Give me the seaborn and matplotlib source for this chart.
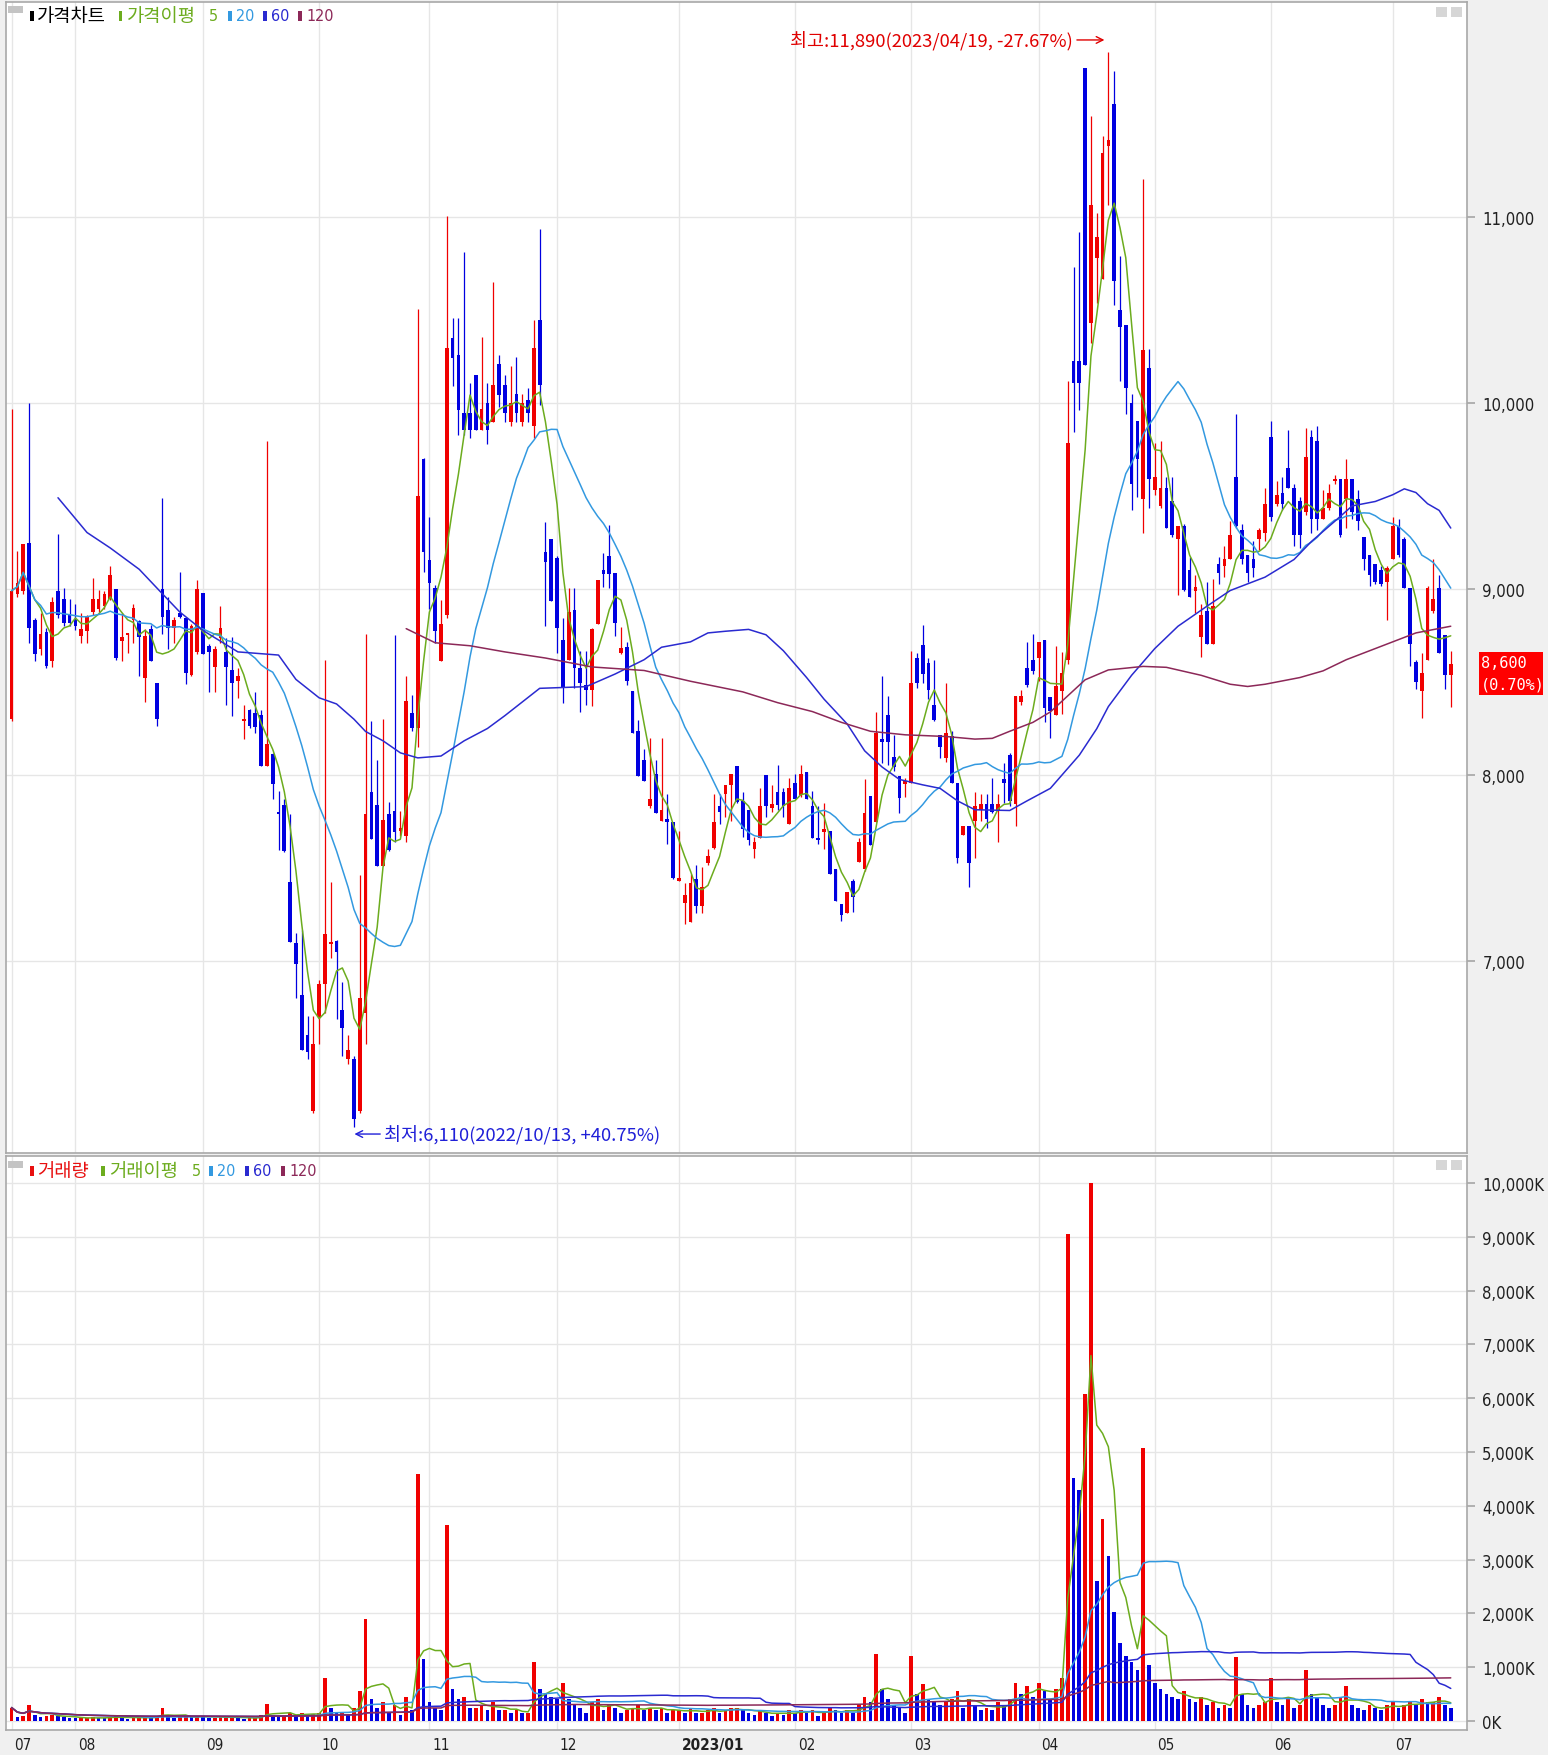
import numpy as np
import pandas as pd
import matplotlib
matplotlib.use("Agg")
import matplotlib.pyplot as plt
import matplotlib.transforms as mtrans
from matplotlib.patches import Rectangle
from matplotlib import font_manager as fm
import seaborn as sns

# ---------------- data ----------------
holidays = ["2022-08-15", "2022-09-09", "2022-09-12", "2022-10-03", "2022-10-10",
            "2022-12-30", "2023-01-23", "2023-01-24", "2023-03-01", "2023-05-01",
            "2023-05-05", "2023-05-29", "2023-06-06"]
start_date, end_date = "2022-07-15", "2023-07-17"
month_labels = ["07", "08", "09", "10", "11", "12", "2023/01", "02", "03", "04", "05", "06", "07"]

open_ = [
    8300, 8975, 8992, 9248, 8837, 8679, 8771, 8613, 8992, 8949, 8860,
    8837, 8751, 8778, 8876, 8893, 8910, 8949, 9002, 8719, 8752, 8837, 8827, 8521, 8784, 8498, 9002, 8890, 8794, 8870, 8843, 8541, 8663,
    8982, 8696, 8580, 8738, 8663, 8564, 8508, 8290, 8350, 8333, 8323, 8047, 8113, 7800, 7840, 7428, 7100, 6819, 6605, 6193,
    6697, 6875, 7090, 7106, 6737, 6473, 6473, 6194, 6720, 7912, 7840, 7510, 7790, 7807, 7698, 7675, 8333, 8251, 9700,
    9157, 9008, 8613, 8860, 10351, 10259, 9947, 9947, 10154, 9858, 10003, 9897, 10210, 10100, 9900, 10050, 9900, 10020, 9880, 10450, 9201, 9270,
    9168, 8726, 8621, 8886, 8578, 8486, 8457, 8813, 9101, 9178, 9086, 8655, 8688, 8452, 8240, 8083, 7833, 8006, 7756, 7766, 7746,
    7429, 7314, 7209, 7439, 7295, 7526, 7606, 7833, 7900, 7948, 8048, 7862, 7814, 7602, 7660, 8002, 7823, 7910, 7910, 7737,
    7958, 7894, 8015, 7833, 7660, 7695, 7698, 7497, 7305, 7257, 7433, 7535, 7497, 7887, 7746, 8188, 8323, 8098, 7996, 7952,
    7958, 8630, 8698, 8601, 8380, 8217, 8092, 8208, 7958, 7679, 7727, 7756, 7814, 7843, 7843, 7814, 7977, 8111, 7843, 8394, 8578, 8621,
    8630, 8726, 8422, 8321, 8450, 8620, 10228, 10228, 11803, 10432, 10779, 10671, 11386, 11607, 10504, 10420, 10000, 9904, 9484, 10192,
    9532, 9448, 9544, 9472, 9269, 9341, 9101, 8993, 8741, 8885, 8705, 9137, 9125, 9161, 9604, 9317, 9185, 9161, 9269, 9305,
    9820, 9460, 9520, 9652, 9544, 9472, 9413, 9820, 9796, 9377, 9437, 9580, 9592, 9484, 9592, 9484, 9281, 9185, 9137, 9101, 9041,
    9161, 9341, 9269, 9005, 8609, 8453, 8621, 8885, 9005, 8753, 8540,
]
high_ = [
    9970, 9206, 9245, 10002, 8843, 8870, 8794, 8959, 9295, 9008, 8949,
    8920, 8870, 8860, 9058, 8998, 8988, 9124, 9002, 8870, 8762, 8919, 8837, 8784, 8810, 8498, 9492, 8959, 8850, 9090, 8850, 8811, 9051,
    8982, 8705, 8696, 8910, 8738, 8745, 8574, 8380, 8356, 8449, 8350, 9798, 8120, 7915, 7872, 7790, 7150, 7165, 6704, 6704,
    6901, 8620, 7428, 7115, 6885, 6605, 6490, 7461, 8761, 8291, 8080, 8301, 7856, 8752, 7807, 8531, 8432, 10506, 9706,
    9387, 9025, 8943, 11007, 10457, 10457, 10812, 10111, 10154, 10358, 10111, 10654, 10259, 10150, 10200, 10250, 10050, 10080, 10450, 10940, 9360, 9270,
    9178, 8847, 9005, 9005, 8669, 8669, 8793, 9047, 9193, 9347, 9086, 8797, 8717, 8452, 8298, 8140, 8202, 8083, 8198, 7900, 7746,
    7698, 7420, 7468, 7516, 7506, 7602, 7900, 7900, 7948, 8006, 8048, 7910, 7814, 7670, 7929, 8002, 7948, 8054, 7929, 7987,
    8006, 8054, 8015, 7914, 7833, 7852, 7698, 7497, 7305, 7372, 7439, 7660, 7977, 7887, 8342, 8534, 8428, 8217, 7996, 7987,
    8669, 8659, 8809, 8630, 8621, 8217, 8496, 8236, 7958, 7727, 7727, 7910, 7900, 7900, 7987, 7900, 8063, 8121, 8428, 8457, 8717, 8759,
    8717, 8726, 8422, 8693, 8660, 10120, 10731, 10923, 11803, 11547, 11024, 11439, 11890, 11787, 10791, 10420, 10048, 9904, 11204, 10293,
    9784, 9796, 9604, 9604, 9341, 9353, 9173, 9077, 8921, 9041, 9053, 9173, 9233, 9365, 9940, 9353, 9185, 9257, 9329, 9544,
    9904, 9580, 9604, 9856, 9568, 9496, 9868, 9856, 9880, 9532, 9568, 9616, 9592, 9700, 9592, 9532, 9281, 9185, 9137, 9125, 9125,
    9389, 9377, 9281, 9005, 8621, 8657, 9017, 9161, 9077, 8753, 8669,
]
low_ = [
    8290, 8959, 8975, 8712, 8613, 8646, 8574, 8580, 8843, 8800, 8800,
    8780, 8712, 8712, 8860, 8876, 8893, 8943, 8620, 8613, 8658, 8712, 8531, 8393, 8613, 8267, 8761, 8679, 8712, 8843, 8488, 8531, 8653,
    8653, 8449, 8449, 8712, 8376, 8317, 8416, 8192, 8251, 8228, 8047, 8047, 7872, 7600, 7587, 7105, 6802, 6523, 6473, 6184,
    6556, 6720, 7017, 6687, 6490, 6447, 6110, 6184, 6556, 7659, 7510, 7510, 7593, 7642, 7675, 7642, 8235, 8152, 9091,
    8893, 8712, 8613, 8844, 10095, 9831, 9831, 9815, 9858, 9858, 9782, 9897, 9980, 9900, 9880, 9900, 9880, 9900, 9812, 9990, 8803, 8938,
    8659, 8386, 8621, 8467, 8342, 8380, 8371, 8813, 9014, 9005, 8751, 8649, 8486, 8227, 7996, 7967, 7823, 7798, 7756, 7631, 7439,
    7429, 7199, 7209, 7257, 7257, 7516, 7602, 7737, 7775, 7756, 7852, 7670, 7622, 7554, 7660, 7775, 7804, 7814, 7775, 7737,
    7871, 7881, 7871, 7660, 7631, 7602, 7468, 7324, 7218, 7257, 7266, 7535, 7487, 7622, 7746, 8063, 8054, 8025, 7794, 7881,
    7958, 8467, 8496, 8409, 8294, 8092, 8073, 7958, 7526, 7679, 7401, 7554, 7756, 7718, 7794, 7641, 7852, 7833, 7727, 8380, 8476, 8544,
    8505, 8284, 8200, 8321, 8330, 8600, 9844, 9964, 10204, 10324, 10540, 10671, 11067, 10528, 10120, 9940, 9424, 9496, 9305, 9437,
    9508, 9437, 9329, 9281, 8969, 8993, 8957, 8873, 8633, 8705, 8705, 9029, 9065, 9161, 9329, 9137, 9041, 9065, 9209, 9257,
    9365, 9448, 9424, 9544, 9233, 9221, 9401, 9305, 9317, 9377, 9424, 9568, 9281, 9329, 9377, 9317, 9101, 9017, 9029, 9017, 8837,
    9161, 9173, 9005, 8585, 8465, 8310, 8621, 8873, 8657, 8465, 8369,
]
close_ = [
    8992, 9035, 9245, 8794, 8653, 8761, 8587, 8933, 8860, 8817, 8817,
    8800, 8784, 8850, 8949, 8949, 8975, 9074, 8630, 8745, 8755, 8899, 8745, 8751, 8613, 8300, 8850, 8794, 8837, 8850, 8547, 8804, 9002,
    8653, 8663, 8679, 8794, 8580, 8498, 8531, 8300, 8267, 8258, 8047, 8169, 7955, 7790, 7593, 7105, 6984, 6523, 6513, 6556,
    6875, 7148, 7105, 7050, 6638, 6523, 6150, 6803, 7790, 7659, 7510, 7757, 7599, 7692, 7718, 8399, 8251, 9502, 9199,
    9035, 8778, 8811, 10299, 10243, 9963, 9858, 9858, 9858, 9970, 9858, 10101, 10045, 9950, 10000, 9950, 10000, 9950, 10300, 10100, 9149, 8938,
    8793, 8467, 8880, 8578, 8496, 8457, 8784, 9047, 9082, 9082, 8817, 8682, 8505, 8227, 7996, 7967, 7871, 7798, 7814, 7746, 7449,
    7449, 7353, 7420, 7299, 7401, 7564, 7746, 7804, 7948, 8006, 7856, 7708, 7650, 7641, 7833, 7833, 7843, 7837, 7833, 7929,
    7871, 8006, 7871, 7660, 7650, 7702, 7468, 7324, 7247, 7372, 7343, 7641, 7794, 7622, 8227, 8179, 8179, 8044, 7875, 7967,
    8496, 8496, 8544, 8457, 8298, 8150, 8227, 7958, 7554, 7727, 7526, 7833, 7843, 7766, 7804, 7843, 7958, 7862, 8428, 8428, 8486, 8559,
    8717, 8361, 8345, 8477, 8550, 9784, 10108, 10108, 10204, 11067, 10892, 11348, 11415, 10659, 10408, 10084, 9568, 9700, 10288, 9592,
    9604, 9544, 9329, 9293, 9341, 8998, 8957, 9010, 8861, 8705, 8909, 9089, 9161, 9293, 9341, 9161, 9089, 9113, 9317, 9460,
    9388, 9508, 9460, 9544, 9293, 9293, 9712, 9377, 9377, 9437, 9520, 9592, 9293, 9592, 9413, 9365, 9161, 9077, 9041, 9029, 9113,
    9341, 9185, 9005, 8705, 8501, 8549, 9005, 8945, 8657, 8540, 8600,
]
volume_k = [
    250, 80, 100, 300, 120, 80, 90, 110, 100, 70, 60,
    50, 50, 60, 70, 60, 50, 80, 90, 60, 40, 60, 60, 80, 60, 80, 250, 90, 50, 80, 90, 70, 100,
    80, 60, 60, 70, 80, 80, 50, 40, 50, 60, 120, 320, 120, 80, 100, 150, 120, 150, 100, 130,
    150, 800, 250, 150, 150, 120, 250, 550, 1900, 400, 250, 350, 150, 300, 120, 450, 200, 4600, 1150,
    350, 250, 200, 3650, 600, 400, 450, 250, 250, 300, 200, 350, 200, 200, 150, 200, 150, 150, 1100, 600, 500, 450,
    400, 700, 400, 300, 250, 150, 350, 400, 200, 300, 250, 150, 200, 250, 300, 200, 250, 200, 250, 150, 200,
    200, 150, 250, 150, 150, 200, 250, 150, 200, 250, 250, 200, 150, 120, 200, 150, 100, 150, 120, 200,
    150, 200, 150, 200, 100, 150, 250, 200, 150, 200, 150, 300, 450, 350, 1250, 600, 400, 300, 250, 150,
    1200, 500, 680, 400, 350, 300, 350, 400, 550, 250, 400, 300, 200, 250, 200, 350, 300, 400, 700, 500, 650, 450,
    700, 550, 400, 600, 800, 9060, 4520, 4300, 6080, 10000, 2600, 3750, 3060, 2020, 1450, 1200, 1100, 950, 5080, 1040,
    700, 600, 500, 450, 400, 550, 400, 350, 450, 300, 350, 250, 300, 250, 1190, 500, 300, 250, 300, 350,
    800, 350, 300, 400, 250, 300, 950, 500, 450, 300, 250, 300, 450, 650, 300, 250, 200, 300, 250, 200, 300,
    350, 250, 300, 350, 300, 400, 350, 350, 450, 300, 250,
]
ma60_day = [8, 13, 17, 22, 26, 29, 33, 39, 46, 49, 53, 56, 59, 61, 64, 67, 70, 74, 78, 82,
            85, 91, 99, 104, 109, 112, 117, 120, 123, 127, 130, 133, 137, 140, 144, 147, 150, 153, 157, 160,
            163, 166, 172, 175, 179, 184, 187, 189, 193, 197, 201, 206, 210, 216, 221, 224, 228, 231, 235, 238,
            240, 242, 244, 246, 248]
ma60_val = [9492, 9305, 9222, 9107, 8975, 8877, 8778, 8663, 8646, 8515, 8416, 8383, 8301, 8235, 8185, 8120, 8093, 8103, 8185, 8251,
            8320, 8467, 8476, 8544, 8621, 8688, 8717, 8765, 8774, 8784, 8755, 8669, 8525, 8409, 8275, 8131, 8044, 7977, 7948, 7929,
            7862, 7814, 7810, 7862, 7929, 8108, 8250, 8369, 8537, 8681, 8801, 8909, 8993, 9065, 9160, 9257, 9365, 9448, 9472, 9508,
            9540, 9520, 9460, 9424, 9329]
ma120_day = [68, 73, 79, 85, 92, 100, 109, 117, 126, 132, 138, 143, 148, 154, 161, 166, 169, 172, 176, 179,
             185, 189, 195, 199, 205, 210, 213, 216, 222, 226, 230, 234, 239, 242, 246, 248]
ma120_val = [8788, 8712, 8696, 8663, 8630, 8582, 8563, 8505, 8448, 8390, 8342, 8284, 8236, 8217, 8208, 8194, 8198, 8236, 8284, 8340,
             8513, 8566, 8585, 8580, 8537, 8489, 8477, 8489, 8525, 8561, 8621, 8669, 8729, 8765, 8789, 8801]
price_ticks = [7000, 8000, 9000, 10000, 11000]
volume_ticks = list(range(0, 10001, 1000))

# ---------------- derived ----------------
days = pd.bdate_range(start_date, end_date)
days = days[~days.isin(pd.to_datetime(holidays))]
n = len(close_)
assert len(days) == n and len(open_) == n and len(high_) == n and len(low_) == n and len(volume_k) == n
o = np.array(open_, float); h = np.array(high_, float)
l = np.array(low_, float); c = np.array(close_, float)
v = np.array(volume_k, float)
idx = np.arange(n)
s_close = pd.Series(c)
ma5 = s_close.rolling(5, min_periods=1).mean()
ma20 = s_close.rolling(20, min_periods=1).mean()
s_vol = pd.Series(v)
vma = {w: s_vol.rolling(w, min_periods=1).mean() for w in (5, 20, 60, 120)}
month_pos = [0] + [i for i in range(1, n) if days[i].month != days[i - 1].month]

# ---------------- style ----------------
sns.set_theme(style="white")
plt.rcParams["font.family"] = ["Noto Sans CJK KR", "DejaVu Sans"]
names = {f.name for f in fm.fontManager.ttflist}
if "Liberation Sans Narrow" in names:
    NARROW = fm.FontProperties(family="Liberation Sans Narrow", size=14)
else:
    NARROW = fm.FontProperties(family="DejaVu Sans", stretch="condensed", size=12)
XFONT = NARROW.copy()
XFONT.set_size(NARROW.get_size() - 1)

RED, BLUE = "#f00000", "#0000e0"
C5, C20, C60, C120 = "#6cac1e", "#3399e0", "#2a2ad0", "#8c2858"
GRID = "#e6e6e6"
SPINE = "#a8a8a8"

W, H = 1548, 1756
fig = plt.figure(figsize=(W / 100, H / 100), dpi=100, facecolor="#f0f0f0")


def axrect(x0, y0, x1, y1):
    return [x0 / W, 1 - y1 / H, (x1 - x0) / W, (y1 - y0) / H]


ax = fig.add_axes(axrect(5.6, 3.4, 1467, 1154))
axv = fig.add_axes(axrect(5.6, 1157, 1467, 1731))
XL = (-1.03, 250.8)

# ---- price candles ----
up = c >= o
col = np.where(up, RED, BLUE)
ax.vlines(idx, l, h, colors=col, lw=0.9, zorder=3)
body_lo = np.minimum(o, c)
body_h = np.maximum(np.abs(c - o), 14)
ax.bar(idx, body_h, bottom=body_lo, width=0.64, color=col, linewidth=0, zorder=3)

sns.lineplot(x=idx, y=ma5.values, ax=ax, color=C5, lw=1.1, zorder=4)
sns.lineplot(x=idx, y=ma20.values, ax=ax, color=C20, lw=1.1, zorder=4)
sns.lineplot(x=ma60_day, y=ma60_val, ax=ax, color=C60, lw=1.1, zorder=4)
sns.lineplot(x=ma120_day, y=ma120_val, ax=ax, color=C120, lw=1.1, zorder=4)

ax.set_xlim(*XL)
ax.set_ylim(5968, 12156)
ax.set_yticks(price_ticks)
ax.set_yticklabels([f"{t:,}" for t in price_ticks], fontproperties=NARROW)
ax.set_xticks(month_pos)
ax.set_xticklabels([])
ax.tick_params(axis="x", length=0)
ax.yaxis.tick_right()
ax.tick_params(axis="y", direction="out", length=6, color=SPINE, pad=5, labelcolor="#202020")
ax.grid(True, color=GRID, lw=1.0)
ax.set_axisbelow(True)
ax.set_xlabel(""); ax.set_ylabel("")
ax.set_facecolor("white")

# annotations
ax.text(182.9, 11954, "최고:11,890(2023/04/19, -27.67%)", ha="right", va="center",
        color="#e00000", fontsize=13.3, zorder=6)
ax.annotate("", xy=(188.8, 11954), xytext=(183.1, 11954),
            arrowprops=dict(arrowstyle="->", color="#e00000", lw=1.0, mutation_scale=12))
ax.text(64.2, 6070, "최저:6,110(2022/10/13, +40.75%)", ha="left", va="center",
        color="#2020d8", fontsize=13.3, zorder=6)
ax.annotate("", xy=(58.6, 6070), xytext=(64.0, 6070),
            arrowprops=dict(arrowstyle="->", color="#2020d8", lw=1.0, mutation_scale=12))

# ---- volume ----
vcol = [RED] + [RED if v[i] >= v[i - 1] else BLUE for i in range(1, n)]
axv.bar(idx, v, width=0.64, color=vcol, linewidth=0, zorder=3)
sns.lineplot(x=idx, y=vma[5].values, ax=axv, color=C5, lw=1.1, zorder=4)
sns.lineplot(x=idx, y=vma[20].values, ax=axv, color=C20, lw=1.1, zorder=4)
sns.lineplot(x=idx, y=vma[60].values, ax=axv, color=C60, lw=1.1, zorder=4)
sns.lineplot(x=idx, y=vma[120].values, ax=axv, color=C120, lw=1.1, zorder=4)
axv.set_xlim(*XL)
axv.set_ylim(-167, 10502)
axv.set_yticks(volume_ticks)
axv.set_yticklabels([f"{t:,}K" for t in volume_ticks], fontproperties=NARROW)
axv.yaxis.tick_right()
axv.tick_params(axis="y", direction="out", length=6, color=SPINE, pad=5, labelcolor="#202020")
axv.set_xticks(month_pos)
axv.set_xticklabels(month_labels, fontproperties=XFONT)
axv.tick_params(axis="x", direction="out", length=5, color=SPINE, pad=0.3, labelcolor="#202020")
offset = mtrans.ScaledTranslation(2 / 72, 0, fig.dpi_scale_trans)
for lab in axv.get_xticklabels():
    lab.set_horizontalalignment("left")
    lab.set_transform(lab.get_transform() + offset)
    if lab.get_text().startswith("2023"):
        lab.set_fontweight("bold")
axv.grid(True, color=GRID, lw=1.0)
axv.set_axisbelow(True)
axv.set_xlabel(""); axv.set_ylabel("")
axv.set_facecolor("white")

for a in (ax, axv):
    for sp in a.spines.values():
        sp.set_color(SPINE)
        sp.set_linewidth(1.2)


# ---- legends / decorations in pixel positions ----
def prect(x, y, w, hh, color):
    fig.add_artist(Rectangle((x / W, 1 - (y + hh) / H), w / W, hh / H,
                             transform=fig.transFigure, facecolor=color, edgecolor="none", zorder=10))


def ptext(x, y, s, color, fp=None, size=13, **kw):
    if fp is not None:
        fig.text(x / W, 1 - y / H, s, color=color, ha="left", va="center", fontproperties=fp, zorder=11, **kw)
    else:
        fig.text(x / W, 1 - y / H, s, color=color, ha="left", va="center", fontsize=size, zorder=11, **kw)


LEG_NUM = NARROW.copy()
LEG_NUM.set_size(NARROW.get_size() - 0.5)

for (y0, items) in [
    (16.5, [(30, "black", 37, "가격차트"), (119, C5, 127, "가격이평"), (None, C5, 209, "5"),
            (228, C20, 236, "20"), (263, C60, 271, "60"), (298, C120, 306, "120")]),
    (1172, [(30, "#e81010", 37, "거래량"), (101, C5, 109, "거래이평"), (None, C5, 192, "5"),
            (209, C20, 217, "20"), (245, C60, 253, "60"), (281, C120, 289, "120")]),
]:
    prect(8, y0 - 10, 15, 7, "#c4c4c4")
    for mx, colr, tx, s in items:
        if mx is not None:
            prect(mx, y0 - 5, 3.5, 10, colr)
        if s.isdigit():
            ptext(tx, y0, s, colr, fp=LEG_NUM)
        else:
            ptext(tx, y0, s, colr, size=13.5)

for yy in (8, 1161):
    prect(1436, yy, 11, 10, "#d6d6d6")
    prect(1451, yy, 11, 10, "#d6d6d6")

# current price box
prect(1479, 653, 64, 43, "#ff0000")
MONO = fm.FontProperties(family="DejaVu Sans Mono", size=11)
ptext(1481, 664, "8,600", "white", fp=MONO)
ptext(1481, 685, "(0.70%)", "white", fp=MONO)

fig.savefig("out.png", dpi=100, facecolor=fig.get_facecolor())
